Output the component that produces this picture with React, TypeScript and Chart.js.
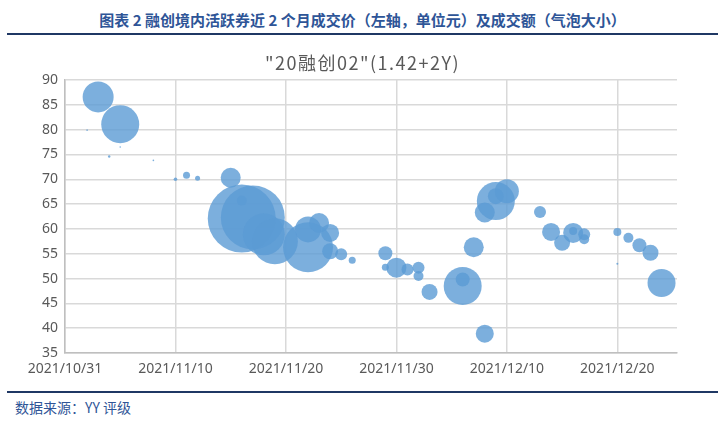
import { useEffect, useRef } from "react";
import { Chart, registerables } from "chart.js";

Chart.register(...registerables);

const mainTitle = "图表 2 融创境内活跃券近 2 个月成交价（左轴，单位元）及成交额（气泡大小）";
const chartTitle = "\"20融创02\"(1.42+2Y)";
const sourceText = "数据来源：YY 评级";

const baseDate = "2021/10/31";
const axisEndDate = "2021/12/25";
const xTickDates = ["2021/10/31", "2021/11/10", "2021/11/20", "2021/11/30", "2021/12/10", "2021/12/20"];
const yMin = 35;
const yMax = 90;
const yStep = 5;

const dates = [
  "2021/11/02", "2021/11/03", "2021/11/04", "2021/11/05", "2021/11/05", "2021/11/08",
  "2021/11/10", "2021/11/11", "2021/11/12", "2021/11/15", "2021/11/16", "2021/11/16",
  "2021/11/17", "2021/11/18", "2021/11/19", "2021/11/22", "2021/11/22", "2021/11/23",
  "2021/11/24", "2021/11/24", "2021/11/25", "2021/11/26", "2021/11/29", "2021/11/29",
  "2021/11/30", "2021/12/01", "2021/12/02", "2021/12/02", "2021/12/03", "2021/12/06",
  "2021/12/06", "2021/12/07", "2021/12/08", "2021/12/08", "2021/12/09", "2021/12/09",
  "2021/12/10", "2021/12/13", "2021/12/14", "2021/12/15", "2021/12/16", "2021/12/16",
  "2021/12/17", "2021/12/17", "2021/12/20", "2021/12/20", "2021/12/21", "2021/12/22",
  "2021/12/23", "2021/12/24",
];

const prices = [
  79.9, 86.6, 74.6, 81.1, 76.5, 73.8,
  70.0, 70.8, 70.2, 70.3, 62.1, 65.7,
  62.3, 58.9, 57.5, 56.3, 59.9, 61.2,
  59.2, 55.5, 54.9, 53.7, 55.1, 52.3,
  52.2, 51.8, 52.2, 50.5, 47.3, 48.5,
  49.8, 56.3, 38.9, 63.3, 65.6, 66.6,
  67.6, 63.4, 59.4, 57.2, 59.2, 59.6,
  58.9, 57.9, 59.4, 53.0, 58.2, 56.7,
  55.2, 49.1,
];

// bubble radius (trading amount, shown as bubble size)
const sizes = [
  0.8, 15.5, 1.2, 19, 0.8, 0.8,
  1.8, 3.5, 2.5, 10, 34, 5,
  32, 21, 23, 25, 13, 10,
  9, 8, 6, 3.5, 7, 3.5,
  10, 6, 6, 5, 8, 19,
  7, 10, 9, 10, 19, 8,
  12, 6, 9, 8, 10, 4,
  6, 5, 4, 1, 5, 7,
  8, 14,
];

const DAY = 86400000;
function toUTC(s: string) {
  const [y, m, d] = s.split("/").map(Number);
  return Date.UTC(y, m - 1, d);
}
function dayOffset(s: string) {
  return (toUTC(s) - toUTC(baseDate)) / DAY;
}
function offsetLabel(off: number) {
  const t = new Date(toUTC(baseDate) + off * DAY);
  const mm = String(t.getUTCMonth() + 1).padStart(2, "0");
  const dd = String(t.getUTCDate()).padStart(2, "0");
  return `${t.getUTCFullYear()}/${mm}/${dd}`;
}

const CANVAS_TOP = 46;
const CANVAS_H = 341;

export default function App() {
  const ref = useRef<HTMLCanvasElement | null>(null);

  useEffect(() => {
    if (!ref.current) return;
    const points = dates.map((d, i) => ({ x: dayOffset(d), y: prices[i], r: sizes[i] }));
    const tickFont = { family: "'Noto Sans', 'Liberation Sans', sans-serif", size: 14 };
    const chart = new Chart(ref.current, {
      type: "bubble",
      data: {
        datasets: [
          {
            data: points,
            backgroundColor: "rgba(91,155,213,0.8)",
            borderWidth: 0,
            clip: false as any,
          },
        ],
      },
      options: {
        responsive: false,
        animation: false,
        devicePixelRatio: 1,
        layout: { padding: { top: 9, left: 0, right: 48, bottom: 0 } },
        plugins: {
          legend: { display: false },
          title: { display: false },
          tooltip: { enabled: false },
        },
        scales: {
          x: {
            type: "linear",
            min: 0,
            max: dayOffset(axisEndDate) + 0.4,
            afterBuildTicks: (scale: any) => {
              scale.ticks = xTickDates.map((d) => ({ value: dayOffset(d) }));
            },
            afterFit: (scale: any) => {
              scale.height = 33;
            },
            ticks: {
              autoSkip: false,
              maxRotation: 0,
              padding: 8,
              color: "#595959",
              font: tickFont,
              callback: (v: any) => offsetLabel(Number(v)),
            },
            grid: { color: "#d9d9d9", lineWidth: 1.5, drawTicks: false },
            border: { color: "#bfbfbf", width: 1.5 },
          },
          y: {
            type: "linear",
            min: yMin,
            max: yMax,
            afterFit: (scale: any) => {
              scale.width = 65;
            },
            ticks: {
              stepSize: yStep,
              padding: 7,
              color: "#595959",
              font: tickFont,
            },
            grid: { color: "#d9d9d9", lineWidth: 1.5, drawTicks: false },
            border: { color: "#bfbfbf", width: 1.5 },
          },
        },
      },
    });
    return () => chart.destroy();
  }, []);

  const cjk = "'Noto Sans CJK SC', 'Noto Sans', sans-serif";

  return (
    <div style={{ position: "absolute", left: 0, top: 0, width: 725, height: 423, background: "#fff", overflow: "hidden" }}>
      <canvas
        ref={ref}
        width={725}
        height={CANVAS_H}
        style={{ position: "absolute", left: 0, top: CANVAS_TOP, width: 725, height: CANVAS_H }}
      />
      <div
        style={{
          position: "absolute", left: 0, top: 9, width: 725, textAlign: "center",
          fontFamily: cjk, fontWeight: 700, fontSize: 15, lineHeight: "22px", color: "#2E5597",
        }}
      >
        {mainTitle}
      </div>
      <div style={{ position: "absolute", left: 7, top: 33, width: 711, height: 2, background: "#1F3864" }} />
      <div
        style={{
          position: "absolute", left: 0, top: 49, width: 725, textAlign: "center",
          fontFamily: cjk, fontSize: 18, lineHeight: "26px", color: "#595959", letterSpacing: "1.5px",
        }}
      >
        {chartTitle}
      </div>
      <div style={{ position: "absolute", left: 7, top: 391, width: 711, height: 2, background: "#1F3864" }} />
      <div
        style={{
          position: "absolute", left: 15, top: 396, fontFamily: cjk, fontSize: 14,
          lineHeight: "22px", color: "#2F5597",
        }}
      >
        {sourceText}
      </div>
    </div>
  );
}
